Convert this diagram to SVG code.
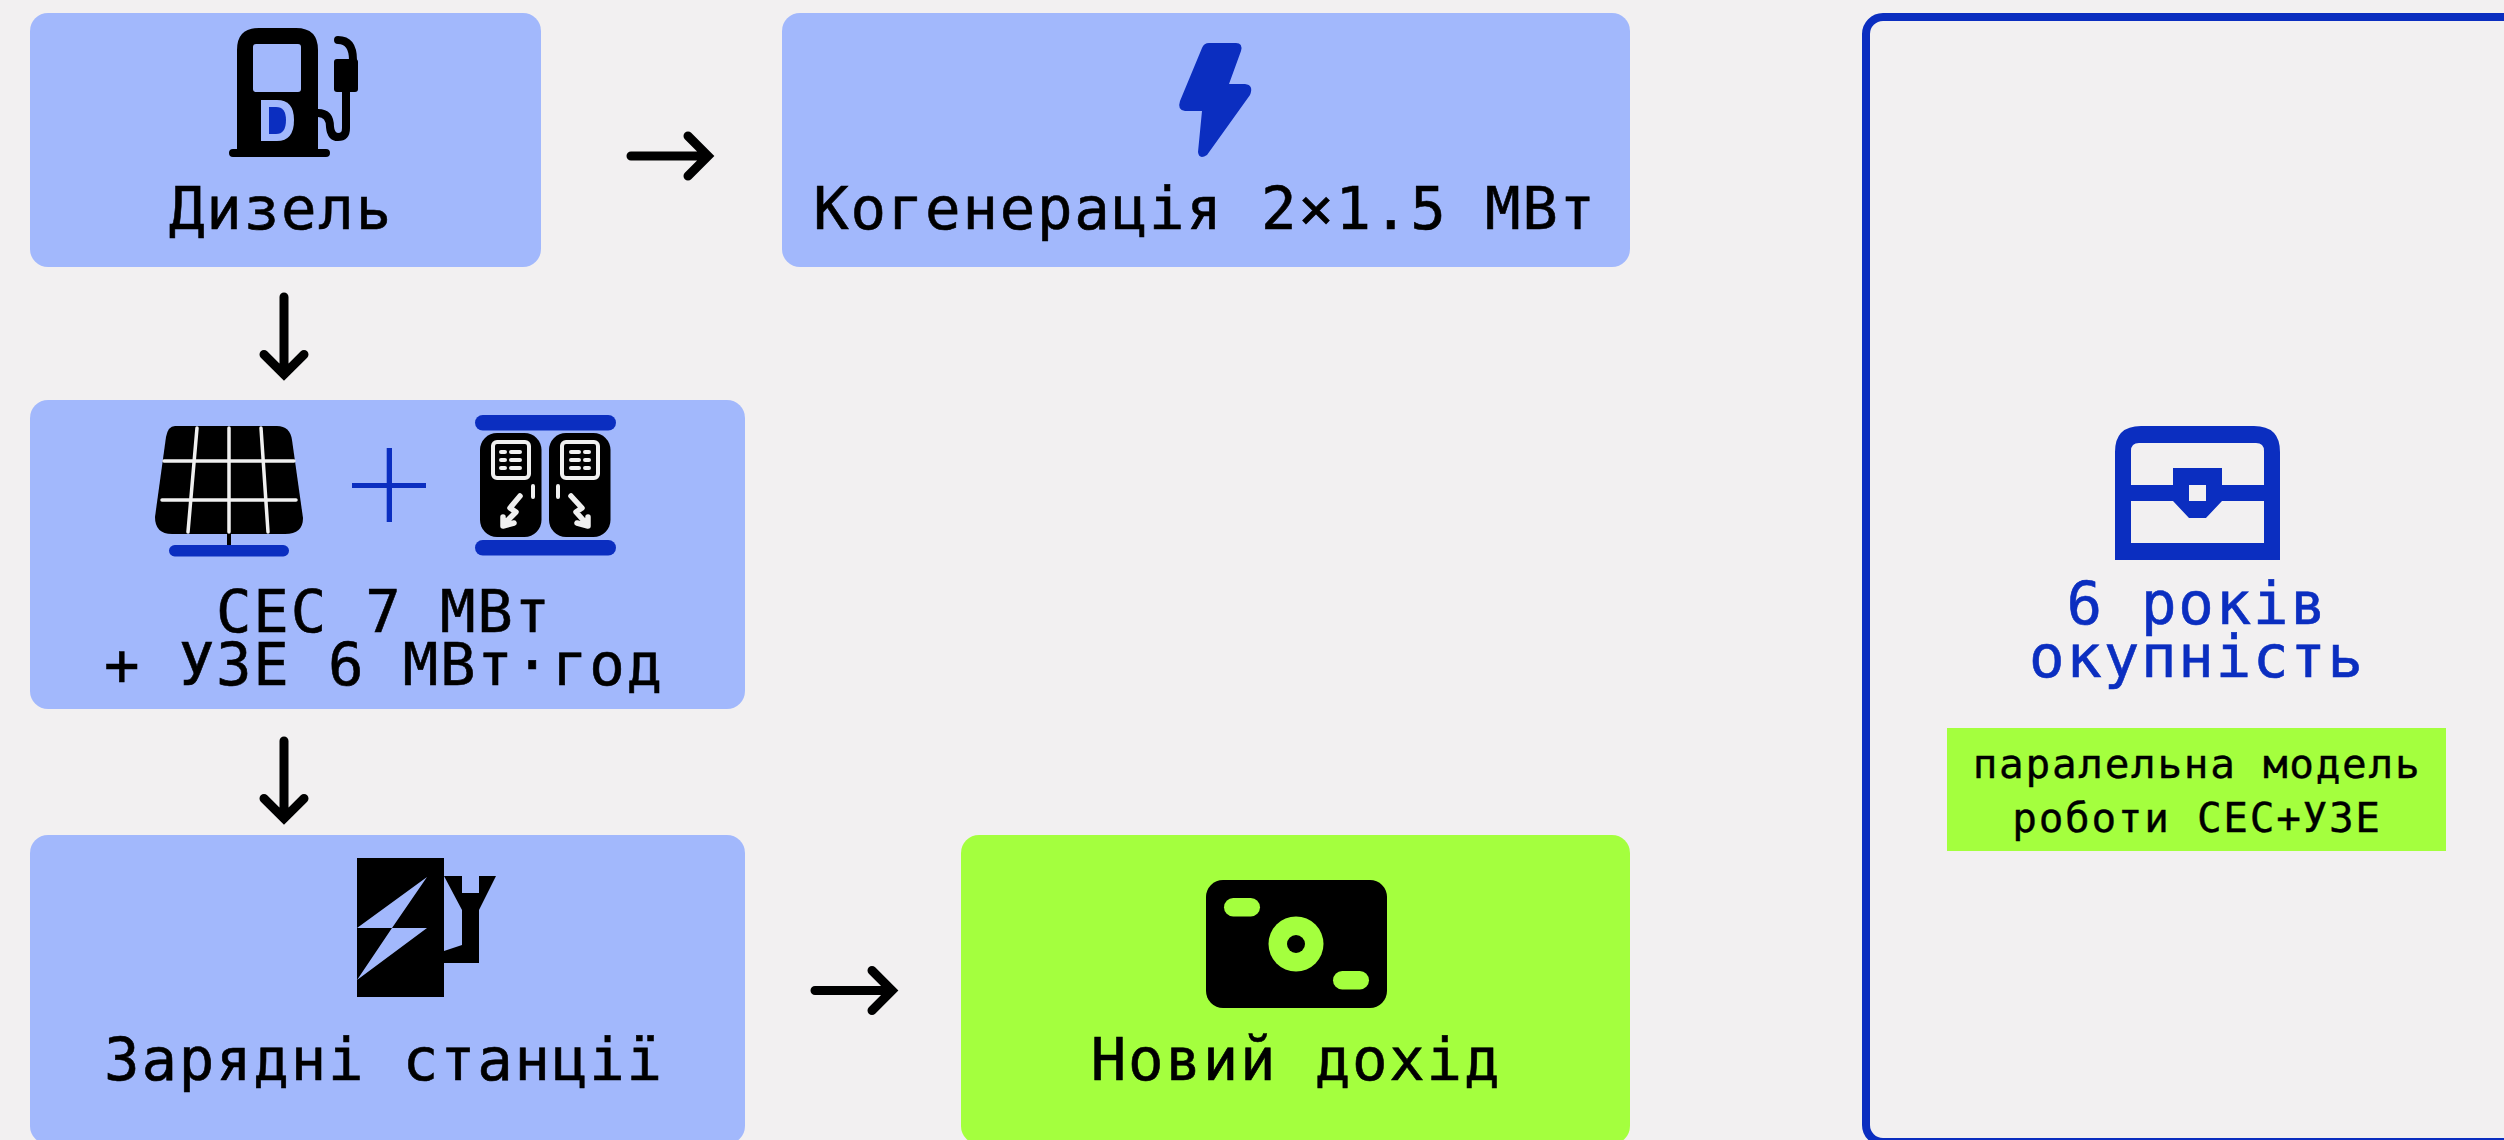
<svg xmlns="http://www.w3.org/2000/svg" width="2504" height="1140" viewBox="0 0 2504 1140">
<style>
.t{font-family:"DejaVu Sans Mono","Liberation Mono",monospace;font-size:59px;letter-spacing:1.8px;text-anchor:middle;fill:#000;stroke:#000;stroke-width:.6px}
.s{font-size:41px;letter-spacing:1.7px;stroke-width:.4px}
.t.b{fill:#0B2EC0;stroke:#0B2EC0}
.b{fill:#0B2EC0}
.n{fill:#A2B8FC}
.g{fill:#A4FF3E}
.w{stroke:#F0F0F0;fill:none;stroke-linecap:round;stroke-linejoin:round}
.a{fill:none;stroke:#000;stroke-width:9;stroke-linecap:round;stroke-linejoin:miter}
</style>
<rect width="2504" height="1140" fill="#F2F0F1"/>
<g id="connectors">
<path class="a" d="M631 156H707M688 136L708 156L688 176"/>
<path class="a" d="M284 297V373M264 354.500L284 374.500L304 354.500"/>
<path class="a" d="M284 741V817M264 798.500L284 818.500L304 798.500"/>
<path class="a" d="M815 990.500H891M872 970.500L892 990.500L872 1010.500"/>
</g>
<g id="node-diesel">
<rect class="n" x="30" y="13" width="511" height="254" rx="18"/>
<path d="M237 50Q237 28 259 28H296Q318 28 318 50V149H326A4 4 0 0 1 326 157H233A4 4 0 0 1 233 149H237Z"/>
<rect class="n" x="253" y="44" width="48" height="48" rx="3"/>
<path class="n" d="M261 100H277Q294 100 294 120Q294 141 277 141H261Z"/>
<path class="b" d="M269 107H276Q286 107 286 120Q286 134 276 134H269Z"/>
<path d="M318 113Q330 113 330 127Q331 137 338 137Q346 137 346 128V92" fill="none" stroke="#000" stroke-width="8"/>
<rect x="334" y="59" width="24" height="33" rx="3"/>
<path d="M338 40Q353 40 353 60" fill="none" stroke="#000" stroke-width="8" stroke-linecap="round"/>
<text class="t" x="281" y="229">Дизель</text>
</g>
<g id="node-cogeneration">
<rect class="n" x="782" y="13" width="848" height="254" rx="18"/>
<path class="b" d="M1202 48Q1204 43 1209 43H1236Q1243 43 1241 51L1229 84H1245Q1254 85 1250 95L1207 155Q1199 160 1198 152L1202 111H1185Q1177 110 1180 101Z"/>
<text class="t" x="1205" y="229">Когенерація 2×1.5 МВт</text>
</g>
<g id="node-solar">
<rect class="n" x="30" y="400" width="715" height="309" rx="18"/>
<path d="M175 426H277Q290 426 292 440L303 518Q303 534 285 534H172Q155 534 155 517L166 437Q168 426 175 426Z"/>
<path class="w" stroke-width="3.500" d="M164 461H294M162 500H296M229 428V532M197 428L188 532M261 428L268 532"/>
<rect x="227" y="534" width="4" height="12"/>
<rect class="b" x="169" y="545" width="120" height="11.500" rx="5.750"/>
<path class="b" d="M352 483H386.700V448H392V483H426V488H392V522H386.700V488H352Z"/>
<rect class="b" x="475" y="415" width="141" height="15.500" rx="7.750"/>
<rect class="b" x="475" y="540" width="141" height="15.500" rx="7.750"/>
<rect x="480" y="433" width="61.500" height="104" rx="17"/>
<rect x="549" y="433" width="61.500" height="104" rx="17"/>
<rect class="w" stroke-width="4" x="493" y="442" width="36" height="36" rx="4"/>
<rect class="w" stroke-width="4" x="562" y="442" width="36" height="36" rx="4"/>
<path class="w" stroke-width="4" d="M501 452H505M511 452H520M501 460H505M511 460H520M501 468H505M511 468H520M571 452H579M585 452H589M571 460H579M585 460H589M571 468H579M585 468H589M533 486V497M558 486V497"/>
<path class="w" stroke-width="5.500" d="M520 496L510 508L516 512L506 522M503 517V526L514 523M571 496L582 508L576 512L585 522M588 517V526L577 523"/>
<text class="t" x="384" y="632">СЕС 7 МВт</text>
<text class="t" x="384" y="685">+ УЗЕ 6 МВт·год</text>
</g>
<g id="node-charging">
<rect class="n" x="30" y="835" width="715" height="309" rx="18"/>
<path d="M357 858H444V876H462V893H479V876H496L479 910V963H444V997H357Z"/>
<path class="n" d="M357 928L427 877L392 928H427L357 980L392 928ZM444 876L462 910V945L444 951Z"/>
<text class="t" x="384" y="1080">Зарядні станції</text>
</g>
<g id="node-income">
<rect class="g" x="961" y="835" width="669" height="309" rx="18"/>
<rect x="1206" y="880" width="181" height="128" rx="17"/>
<rect class="g" x="1224" y="898" width="36" height="18.500" rx="9.250"/>
<rect class="g" x="1333" y="971" width="36" height="18.500" rx="9.250"/>
<circle class="g" cx="1296" cy="944" r="27.500"/>
<circle cx="1296" cy="944" r="9"/>
<text class="t" x="1296" y="1080">Новий дохід</text>
</g>
<g id="node-payback">
<rect x="1866" y="17" width="700" height="1125" rx="17" fill="none" stroke="#0B2EC0" stroke-width="8"/>
<path class="b" fill-rule="evenodd" d="M2115 452Q2115 426 2141 426H2254Q2280 426 2280 452V560H2115ZM2131 485H2173V468H2222V485H2264V451Q2264 443 2256 443H2139Q2131 443 2131 451ZM2189 485V501H2206V485ZM2131 501V543H2264V501H2222L2206 518H2189L2173 501Z"/>
<text class="t b" x="2197" y="624">6 років</text>
<text class="t b" x="2197" y="677">окупність</text>
<rect class="g" x="1947" y="728" width="499" height="123"/>
<text class="t s" x="2197" y="778">паралельна модель</text>
<text class="t s" x="2197" y="832">роботи СЕС+УЗЕ</text>
</g>
</svg>
